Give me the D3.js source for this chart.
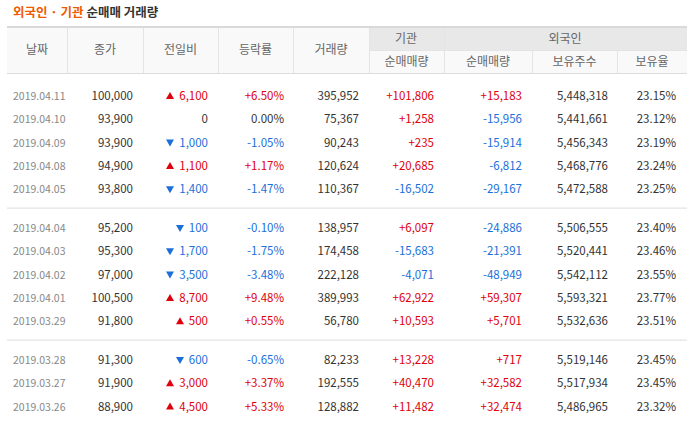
<!DOCTYPE html>
<html><head><meta charset="utf-8">
<script src="https://cdn.jsdelivr.net/npm/d3@7"></script>
<style>
body{margin:0;background:#fff;font-family:"Noto Sans CJK KR","Noto Sans",sans-serif}
</style></head><body>
<svg id="okvir" width="690" height="424"></svg>
<script>
const datumi = ["2019.04.11","2019.04.10","2019.04.09","2019.04.08","2019.04.05","2019.04.04","2019.04.03","2019.04.02","2019.04.01","2019.03.29","2019.03.28","2019.03.27","2019.03.26"]
const zaklj = [100000,93900,93900,94900,93800,95200,95300,97000,100500,91800,91300,91900,88900]
const promjena = [6100,0,-1000,1100,-1400,-100,-1700,-3500,8700,500,-600,3000,4500]
const postotak = [6.50,0.00,-1.05,1.17,-1.47,-0.10,-1.75,-3.48,9.48,0.55,-0.65,3.37,5.33]
const volumen = [395952,75367,90243,120624,110367,138957,174458,222128,389993,56780,82233,192555,128882]
const institucije = [101806,1258,235,20685,-16502,6097,-15683,-4071,62922,10593,13228,40470,11482]
const stranci = [15183,-15956,-15914,-6812,-29167,-24886,-21391,-48949,59307,5701,717,32582,32474]
const udjeli = [5448318,5441661,5456343,5468776,5472588,5506555,5520441,5542112,5593321,5532636,5519146,5517934,5486965]
const omjer = [23.15,23.12,23.19,23.24,23.25,23.40,23.46,23.55,23.77,23.51,23.45,23.45,23.32]

const svg = d3.select("#okvir")
const crvena = "#e0000b", plava = "#1b6fd9", siva = "#333"
const fmt = v => d3.format(",")(v).replace("−", "-")
const predznak = v => v > 0 ? "+" + fmt(v) : fmt(v)
const boja = v => v > 0 ? crvena : v < 0 ? plava : siva

// naslov
const naslov = svg.append("text").attr("x", 13).attr("y", 17).attr("font-size", 12.5).attr("font-weight", "bold")
naslov.append("tspan").attr("fill", "#f05a00").text("외국인 · 기관")
naslov.append("tspan").attr("fill", "#333").text(" 순매매 거래량")

// zaglavlje
const granice = [7, 67, 143, 218, 293, 369, 444, 532, 617, 687]
svg.append("rect").attr("x", 7).attr("y", 27).attr("width", 680).attr("height", 47).attr("fill", "#f9f9f9")
svg.append("rect").attr("x", 369).attr("y", 27).attr("width", 318).attr("height", 23).attr("fill", "#e8e8e8")
svg.append("rect").attr("x", 7).attr("y", 26).attr("width", 680).attr("height", 2).attr("fill", "#d9d9d9")
svg.append("rect").attr("x", 7).attr("y", 73).attr("width", 680).attr("height", 1).attr("fill", "#dcdcdc")
svg.append("rect").attr("x", 369).attr("y", 50).attr("width", 318).attr("height", 1).attr("fill", "#e4e4e4")
granice.slice(1, -1).forEach((x, i) => {
  const donji = i >= 6
  svg.append("rect").attr("x", x).attr("y", donji ? 51 : 28).attr("width", 1)
    .attr("height", donji ? 22 : 45).attr("fill", "#e4e4e4")
})
const hdr = (t, x, y) => svg.append("text").attr("x", x).attr("y", y).attr("text-anchor", "middle")
  .attr("font-size", 12).attr("fill", "#666").text(t)
;["날짜","종가","전일비","등락률","거래량"].forEach((t, i) => hdr(t, (granice[i] + granice[i+1]) / 2, 54))
hdr("기관", 406, 43); hdr("외국인", 565, 43)
;["순매매량","순매매량","보유주수","보유율"].forEach((t, i) => hdr(t, (granice[i+5] + granice[i+6]) / 2, 66))

// redovi
const yS = d3.scaleLinear().domain([0, 1]).range([96, 119.3])
const yR = i => yS(i) + Math.floor(i / 5) * 15.5
;[1, 2].forEach(g => svg.append("rect").attr("x", 7).attr("y", (yR(g*5-1) + yR(g*5)) / 2 - 1)
  .attr("width", 680).attr("height", 1).attr("fill", "#dcdcdc"))

datumi.forEach((d, i) => {
  const y = yR(i) + 4
  const t = (x, s, c, anchor = "end", size = 11.5) => svg.append("text").attr("x", x).attr("y", y)
    .attr("text-anchor", anchor).attr("font-size", size).attr("fill", c).text(s)
  t(13, d, "#888", "start", 10.5)
  t(133, fmt(zaklj[i]), siva)
  t(208, fmt(Math.abs(promjena[i])), boja(promjena[i]))
  if (promjena[i] !== 0) {
    const tx = 170 + (Math.abs(promjena[i]) < 1000 ? 10 : 0), ty = yR(i)
    const tri = promjena[i] > 0
      ? `M${tx-4},${ty+3}L${tx+4},${ty+3}L${tx},${ty-4}Z`
      : `M${tx-4},${ty-3}L${tx+4},${ty-3}L${tx},${ty+4}Z`
    svg.append("path").attr("d", tri).attr("fill", boja(promjena[i]))
  }
  t(284, (postotak[i] > 0 ? "+" : "") + postotak[i].toFixed(2) + "%", boja(postotak[i]))
  t(359, fmt(volumen[i]), siva)
  t(434, predznak(institucije[i]), boja(institucije[i]))
  t(522, predznak(stranci[i]), boja(stranci[i]))
  t(608, fmt(udjeli[i]), siva)
  t(676, omjer[i].toFixed(2) + "%", siva)
})
</script></body></html>
